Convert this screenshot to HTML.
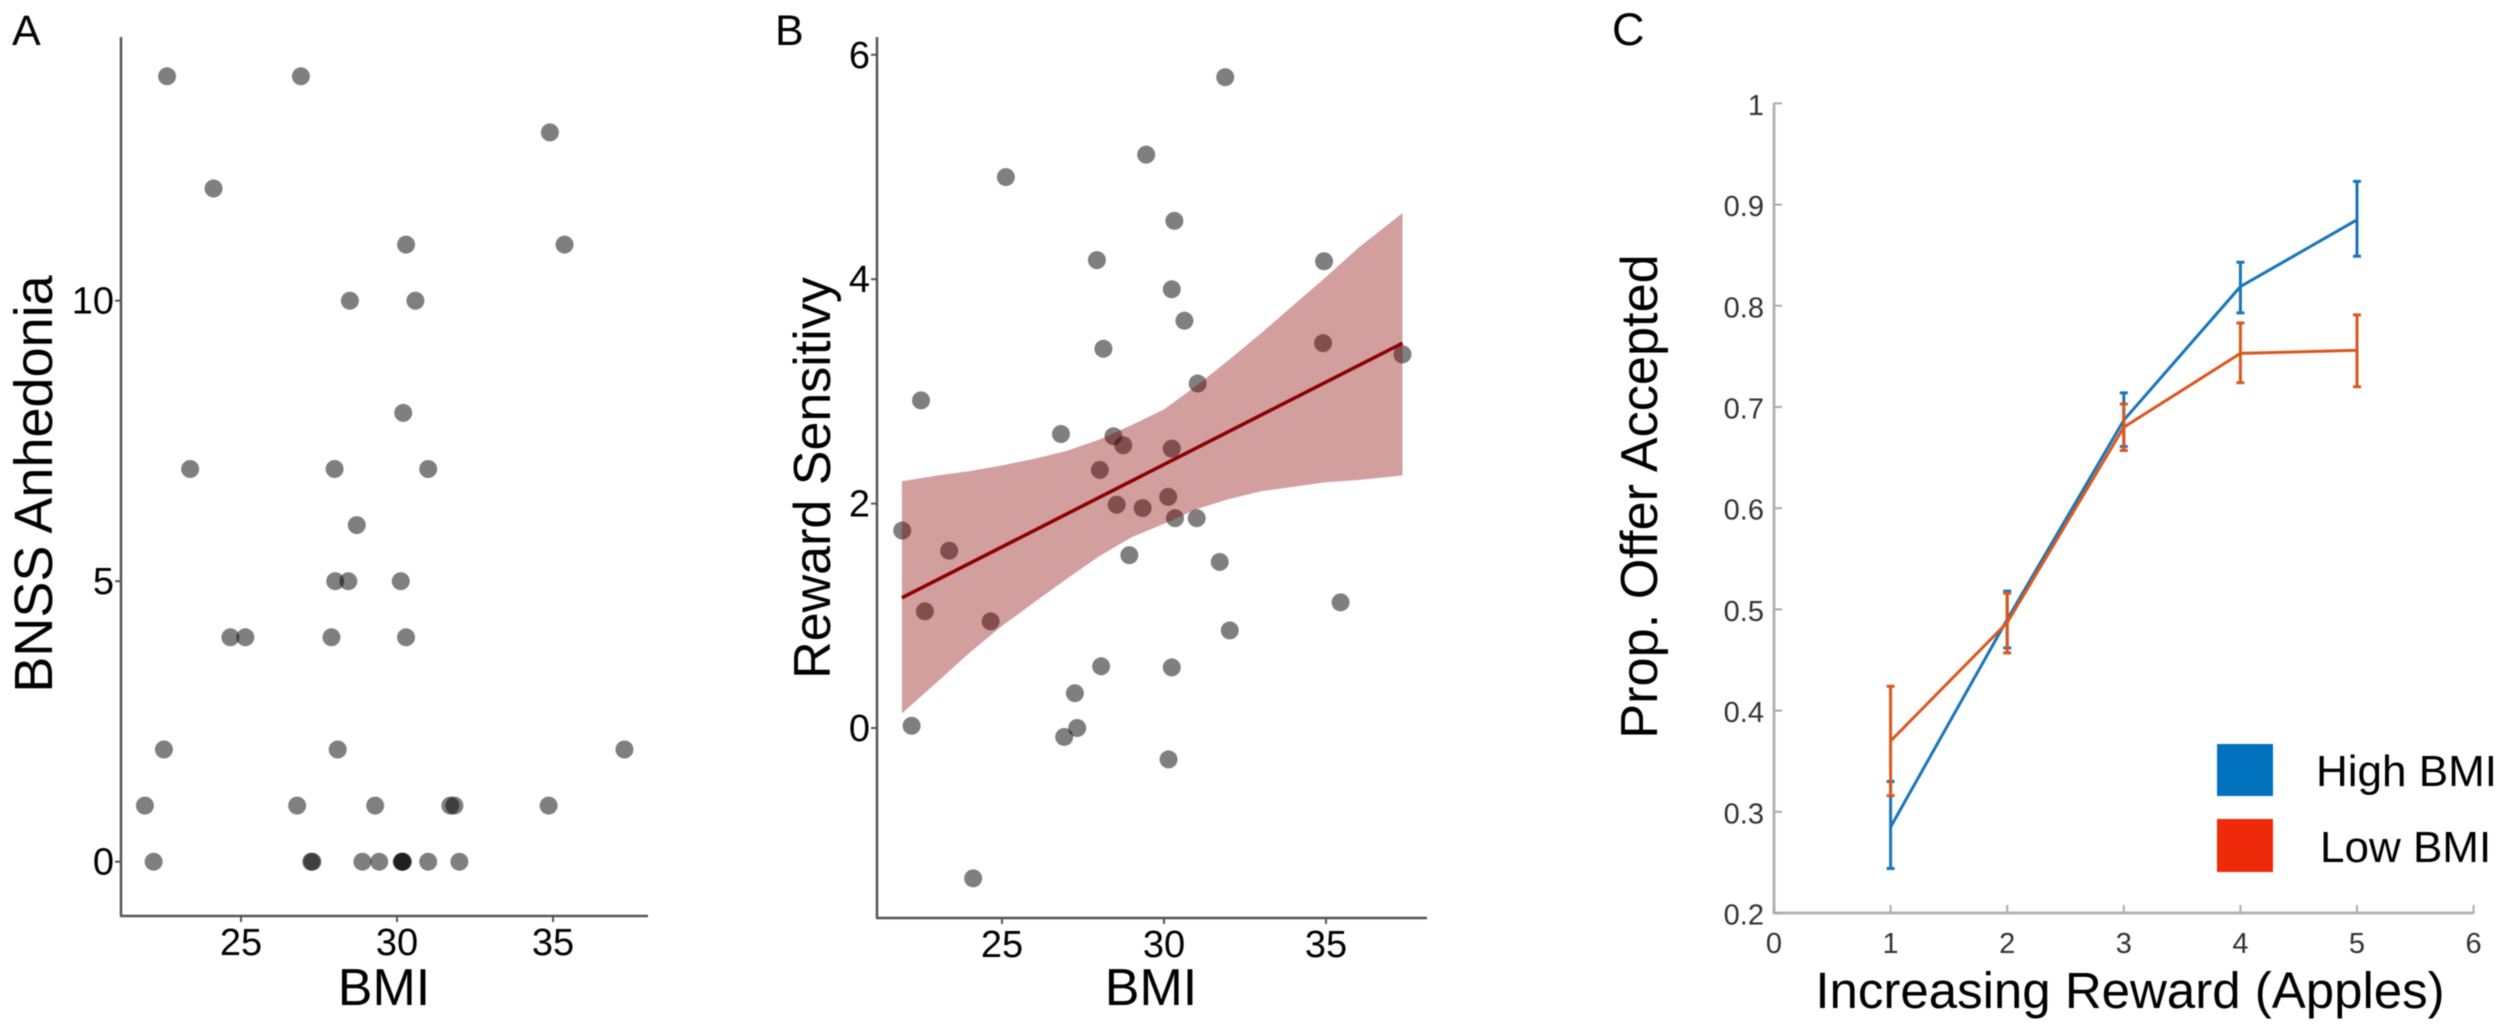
<!DOCTYPE html>
<html lang="en">
<head>
<meta charset="utf-8">
<title>BMI, anhedonia and reward sensitivity panels</title>
<style>
html,body{margin:0;padding:0;background:#fff;overflow:hidden;}
svg{display:block;font-family:"Liberation Sans",Arial,sans-serif;filter:blur(0.6px);}
</style>
</head>
<body>
<svg id="fig" width="2508" height="1028" viewBox="0 0 2508 1028" xmlns="http://www.w3.org/2000/svg">
  <rect width="2508" height="1028" fill="#fff"/>

  <text x="12" y="45" font-size="43" fill="#000">A</text>
  <text x="775" y="45" font-size="43" fill="#000">B</text>
  <text x="1612" y="45" font-size="45" fill="#000">C</text>

  <g id="panelA">
    <line x1="121" y1="37" x2="121" y2="916" stroke="#555" stroke-width="2.5"/>
    <line x1="120" y1="916" x2="648" y2="916" stroke="#555" stroke-width="2.5"/>
    <text x="384" y="1005" font-size="52" text-anchor="middle" fill="#000">BMI</text>
    <text transform="translate(52,484) rotate(-90)" font-size="54" text-anchor="middle" fill="#000">BNSS Anhedonia</text>
  </g>

  <g id="panelB">
    <line x1="877" y1="37" x2="877" y2="918" stroke="#555" stroke-width="2.5"/>
    <line x1="876" y1="918" x2="1427" y2="918" stroke="#555" stroke-width="2.5"/>
    <text x="1151" y="1005" font-size="52" text-anchor="middle" fill="#000">BMI</text>
    <text transform="translate(830,478) rotate(-90)" font-size="52" text-anchor="middle" fill="#000">Reward Sensitivy</text>
  </g>

  <g id="panelC">
    <line x1="1774" y1="103" x2="1774" y2="914" stroke="#b5b5b5" stroke-width="3"/>
    <line x1="1773" y1="913" x2="2474" y2="913" stroke="#b5b5b5" stroke-width="3"/>
    <text x="2130" y="1008" font-size="51" text-anchor="middle" fill="#000">Increasing Reward (Apples)</text>
    <text transform="translate(1657,496.5) rotate(-90)" font-size="52.3" text-anchor="middle" fill="#000">Prop. Offer Accepted</text>
    <g>
      <rect x="2217" y="744" width="56" height="52" fill="#0072bd"/>
      <text x="2316" y="786" font-size="44" fill="#000">High BMI</text>
      <rect x="2217" y="819" width="56" height="53" fill="#ee2a0a"/>
      <text x="2320" y="862" font-size="44" fill="#000">Low BMI</text>
    </g>
  </g>
</svg>

<script>
/* Panel A data */
var aBmi = [22.63,26.92,34.9,24.12,30.29,35.37,28.49,30.59,30.2,23.37,28.0,31.0,28.71,28.02,28.44,30.12,24.66,25.14,27.9,30.29,22.53,28.1,37.29,21.92,26.8,29.3,31.71,31.84,34.86,22.2,27.25,27.29,28.89,29.43,30.15,30.17,30.19,31.0,32.0];
var aAnhedonia = [14,14,13,12,11,11,10,10,8,7,7,7,6,5,5,5,4,4,4,4,2,2,2,1,1,1,1,1,1,0,0,0,0,0,0,0,0,0,0];
var aXTicks = [25,30,35];
var aYTicks = [0,5,10];

/* Panel B data */
var bBmi = [31.89,29.45,25.12,30.32,27.93,34.94,30.24,30.63,28.13,34.91,37.36,31.04,26.82,28.44,28.74,30.24,28.02,28.54,29.34,30.13,30.34,31.01,28.93,31.72,35.45,24.65,32.03,28.06,30.24,27.25,27.32,26.92,30.14,24.11,21.92,22.5,22.21,22.62,23.37];
var bSensitivity = [5.8,5.11,4.91,4.52,4.17,4.16,3.91,3.63,3.38,3.43,3.33,3.07,2.62,2.6,2.52,2.49,2.3,1.99,1.96,2.06,1.87,1.87,1.54,1.48,1.12,0.95,0.87,0.55,0.54,0.31,0.0,-0.08,-0.28,-1.34,1.76,2.92,0.02,1.04,1.58];
var fitBmi = [21.91,37.36];
var fitValue = [1.16,3.43];
var bandBmi = [21.91,23,24,25,26,27,28,29,30,31,32,33,34,35,36,37.36];
var bandUpper = [2.20,2.25,2.29,2.34,2.40,2.47,2.57,2.70,2.84,3.05,3.28,3.52,3.77,4.02,4.28,4.59];
var bandLower = [0.13,0.41,0.67,0.91,1.12,1.33,1.53,1.70,1.82,1.95,2.04,2.11,2.15,2.19,2.21,2.25];
var bXTicks = [25,30,35];
var bYTicks = [0,2,4,6];

/* Panel C data */
var rewardLevels = [1,2,3,4,5];
var highMean = [0.285,0.49,0.687,0.819,0.885];
var highUpper = [0.33,0.518,0.714,0.843,0.923];
var highLower = [0.244,0.462,0.661,0.793,0.849];
var lowMean = [0.37,0.487,0.68,0.753,0.756];
var lowUpper = [0.424,0.516,0.703,0.783,0.791];
var lowLower = [0.316,0.457,0.657,0.724,0.72];
var cXTicks = [0,1,2,3,4,5,6];
var cYTicks = [0.2,0.3,0.4,0.5,0.6,0.7,0.8,0.9,1];

/* Axis functions */
function xA(v){ return 397 + (v - 30) * 31.2; }
function yA(v){ return 861.7 - v * 56.1; }
function xB(v){ return 1164 + (v - 30) * 32.4; }
function yB(v){ return 728 - v * 112.2; }
function xC(v){ return 1774 + v * 116.6; }
function yC(v){ return 913 - (v - 0.2) * 1012; }

var NS = 'http://www.w3.org/2000/svg';
function make(parent, tag, attrs, txt){
  var n = document.createElementNS(NS, tag);
  for (var k in attrs) n.setAttribute(k, attrs[k]);
  if (txt !== undefined) n.textContent = txt;
  parent.appendChild(n);
  return n;
}
var gA = document.getElementById('panelA');
var gB = document.getElementById('panelB');
var gC = document.getElementById('panelC');
var el, i;

/* Panel A ticks */
aXTicks.forEach(function(t){
  var el = make(gA, 'line', {x1:xA(t), x2:xA(t), y1:916, y2:922, stroke:'#555', 'stroke-width':2});
  
  
  el = make(gA, 'text', {x:xA(t), y:955, 'font-size':38, 'text-anchor':'middle', fill:'#000'}, String(t));
  
  
});
aYTicks.forEach(function(t){
  var el = make(gA, 'line', {x1:115, x2:121, y1:yA(t), y2:yA(t), stroke:'#555', 'stroke-width':2});
  
  
  el = make(gA, 'text', {x:114, y:yA(t)+13, 'font-size':38, 'text-anchor':'end', fill:'#000'}, String(t));
  
  
});

/* Panel A points */
for (i = 0; i < aBmi.length; i++) {
  el = make(gA, 'circle', {cx:xA(aBmi[i]), cy:yA(aAnhedonia[i]), r:9, fill:'#000', 'fill-opacity':0.5});
  
  
}

/* Panel B ticks */
bXTicks.forEach(function(t){
  var el = make(gB, 'line', {x1:xB(t), x2:xB(t), y1:918, y2:924, stroke:'#555', 'stroke-width':2});
  
  
  el = make(gB, 'text', {x:xB(t), y:957, 'font-size':38, 'text-anchor':'middle', fill:'#000'}, String(t));
  
  
});
bYTicks.forEach(function(t){
  var el = make(gB, 'line', {x1:871, x2:877, y1:yB(t), y2:yB(t), stroke:'#555', 'stroke-width':2});
  
  
  el = make(gB, 'text', {x:870, y:yB(t)+13, 'font-size':38, 'text-anchor':'end', fill:'#000'}, String(t));
  
  
});

/* Panel B points (beneath the band) */
for (i = 0; i < bBmi.length; i++) {
  el = make(gB, 'circle', {cx:xB(bBmi[i]), cy:yB(bSensitivity[i]), r:9, fill:'#000', 'fill-opacity':0.5});
  
  
}

/* Panel B confidence band */
var bandPts = [];
for (i = 0; i < bandBmi.length; i++) bandPts.push(xB(bandBmi[i]).toFixed(1) + ',' + yB(bandUpper[i]).toFixed(1));
for (i = bandBmi.length - 1; i >= 0; i--) bandPts.push(xB(bandBmi[i]).toFixed(1) + ',' + yB(bandLower[i]).toFixed(1));
el = make(gB, 'polygon', {points:bandPts.join(' '), fill:'#8b0000', 'fill-opacity':0.38});



/* Panel B fit line */
el = make(gB, 'line', {x1:xB(fitBmi[0]), y1:yB(fitValue[0]), x2:xB(fitBmi[1]), y2:yB(fitValue[1]), stroke:'#8b0000', 'stroke-width':3.5});



/* Panel C ticks */
cXTicks.forEach(function(t){
  var el = make(gC, 'line', {x1:xC(t), x2:xC(t), y1:913, y2:905, stroke:'#aaa', 'stroke-width':2});
  
  
  el = make(gC, 'text', {x:xC(t), y:953, 'font-size':29, 'text-anchor':'middle', fill:'#333'}, String(t));
  
  
});
cYTicks.forEach(function(t){
  var el = make(gC, 'line', {x1:1774, x2:1782, y1:yC(t), y2:yC(t), stroke:'#aaa', 'stroke-width':2});
  
  
  el = make(gC, 'text', {x:1764, y:yC(t)+11.5, 'font-size':29, 'text-anchor':'end', fill:'#333'}, String(t));
  
  
});

/* Panel C series */
function seriesPoints(means){
  return means.map(function(m, k){ return xC(rewardLevels[k]).toFixed(1) + ',' + yC(m).toFixed(1); }).join(' ');
}
function errorBars(uppers, lowers, color, group){
  for (var k = 0; k < rewardLevels.length; k++) {
    var x = xC(rewardLevels[k]);
    var d = 'M' + x + ' ' + yC(uppers[k]) + 'V' + yC(lowers[k]) +
            'M' + (x - 4) + ' ' + yC(uppers[k]) + 'H' + (x + 4) +
            'M' + (x - 4) + ' ' + yC(lowers[k]) + 'H' + (x + 4);
    var bar = make(group, 'path', {d:d, fill:'none', stroke:color, 'stroke-width':3});
    
    
  }
}
var gHigh = make(gC, 'g', {});


errorBars(highUpper, highLower, '#1a75b8', gHigh);
el = make(gHigh, 'polyline', {points:seriesPoints(highMean), fill:'none', stroke:'#1a75b8', 'stroke-width':3});



var gLow = make(gC, 'g', {});


errorBars(lowUpper, lowLower, '#d9581f', gLow);
el = make(gLow, 'polyline', {points:seriesPoints(lowMean), fill:'none', stroke:'#d9581f', 'stroke-width':3});


</script>
</body>
</html>
